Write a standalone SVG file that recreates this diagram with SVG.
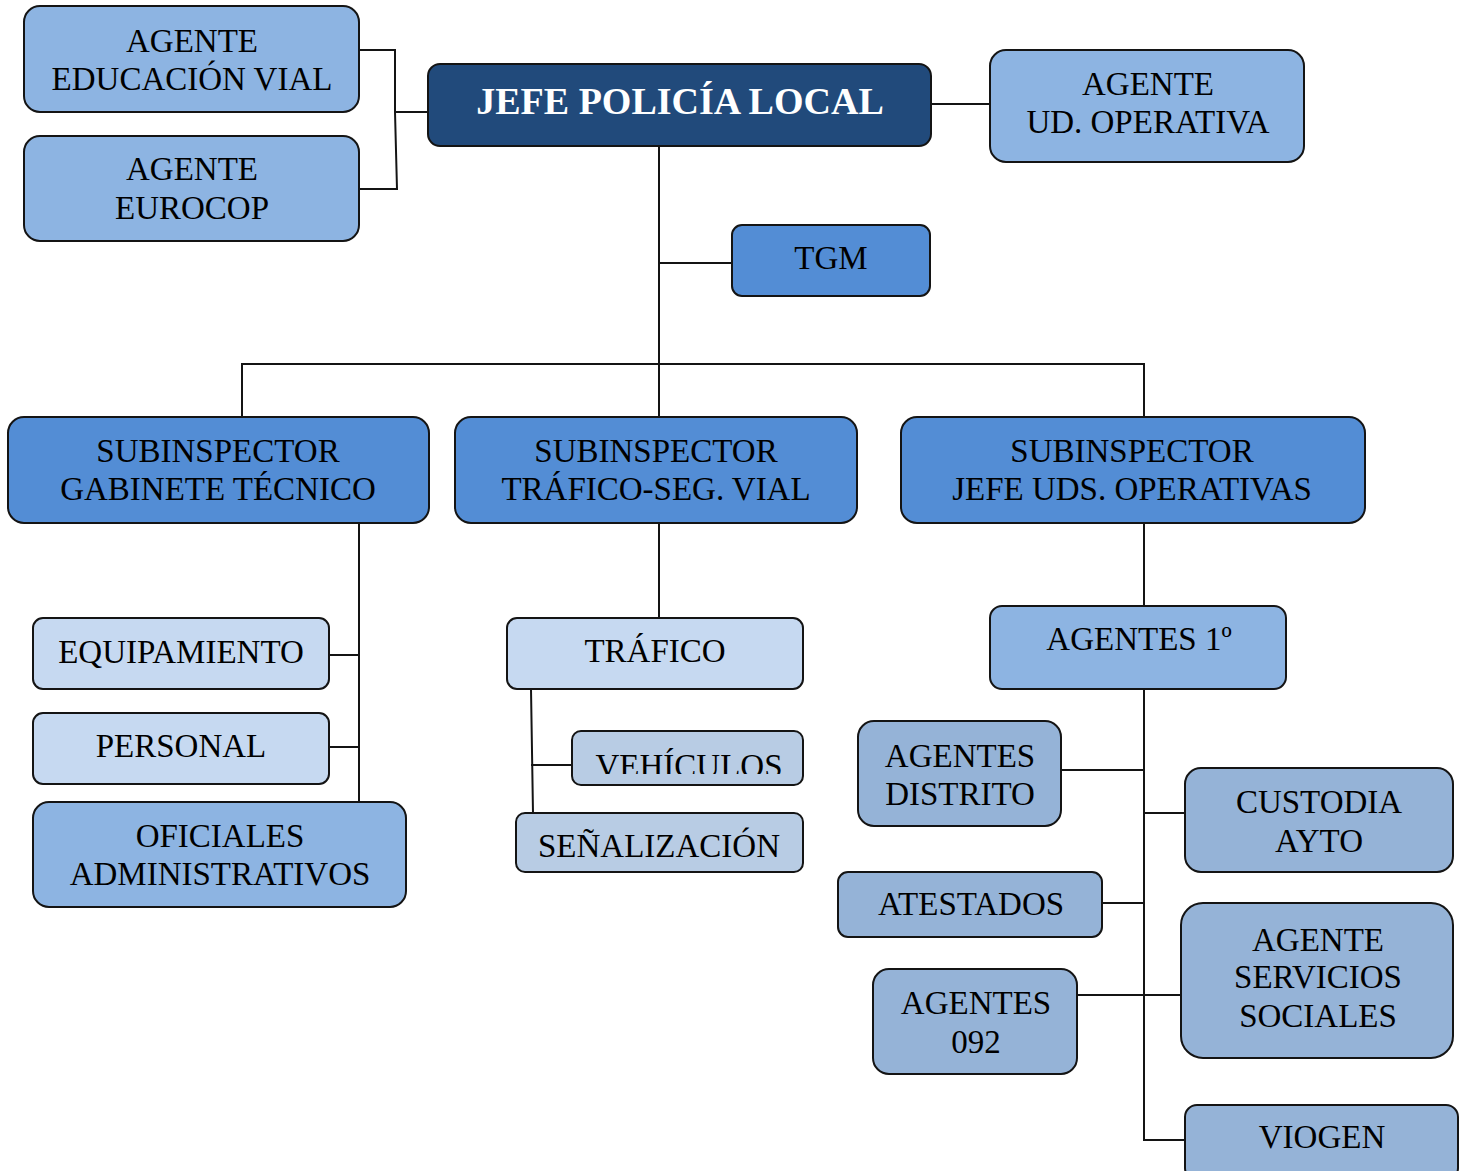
<svg xmlns="http://www.w3.org/2000/svg" width="1467" height="1171" viewBox="0 0 1467 1171">
<style>
.b{stroke:#141414;stroke-width:2}
.dk{fill:#214A7B}.md{fill:#538DD5}.lt{fill:#8DB4E2}.pl{fill:#C6D9F1}.gy{fill:#B8CCE4}.sl{fill:#95B3D7}
text{font-family:"Liberation Serif","Times New Roman",serif;font-size:33px;fill:#000;text-anchor:middle}
.t{font-size:38px;font-weight:bold;fill:#fff}
.c{fill:none;stroke:#141414;stroke-width:2}
</style>
<defs>
<clipPath id="vclip"><rect x="572" y="731" width="231" height="43"/></clipPath>
</defs>
<rect width="1467" height="1171" fill="#fff"/>
<g id="connectors">
<path class="c" d="M359 50H395V112M359 189H397L395 112M395 112H428"/>
<path class="c" d="M931 104H990"/>
<path class="c" d="M659 146V417M659 263H732M242 417V364H1144V417"/>
<path class="c" d="M359 523V802M329 655H359M329 747H359"/>
<path class="c" d="M659 523V618M531 689L533 813M531 765H572"/>
<path class="c" d="M1144 523V606M1144 689V1140H1185M1061 770H1144M1144 813H1185M1102 903H1144M1077 995H1181"/>
</g>
<g id="n-edu"><rect class="b lt" x="24" y="6" width="335" height="106" rx="16"/><text x="192" y="52">AGENTE</text><text x="192" y="90">EDUCACIÓN VIAL</text></g>
<g id="n-eurocop"><rect class="b lt" x="24" y="136" width="335" height="105" rx="16"/><text x="192" y="180">AGENTE</text><text x="192" y="219">EUROCOP</text></g>
<g id="n-jefe"><rect class="b dk" x="428" y="64" width="503" height="82" rx="12"/><text class="t" x="680" y="114">JEFE POLICÍA LOCAL</text></g>
<g id="n-udop"><rect class="b lt" x="990" y="50" width="314" height="112" rx="16"/><text x="1148" y="95">AGENTE</text><text x="1148" y="133">UD. OPERATIVA</text></g>
<g id="n-tgm"><rect class="b md" x="732" y="225" width="198" height="71" rx="10"/><text x="831" y="269">TGM</text></g>
<g id="n-subgab"><rect class="b md" x="8" y="417" width="421" height="106" rx="16"/><text x="218" y="462">SUBINSPECTOR</text><text x="218" y="500">GABINETE TÉCNICO</text></g>
<g id="n-subtraf"><rect class="b md" x="455" y="417" width="402" height="106" rx="16"/><text x="656" y="462">SUBINSPECTOR</text><text x="656" y="500">TRÁFICO-SEG. VIAL</text></g>
<g id="n-subuds"><rect class="b md" x="901" y="417" width="464" height="106" rx="16"/><text x="1132" y="462">SUBINSPECTOR</text><text x="1132" y="500">JEFE UDS. OPERATIVAS</text></g>
<g id="n-equip"><rect class="b pl" x="33" y="618" width="296" height="71" rx="10"/><text x="181" y="663">EQUIPAMIENTO</text></g>
<g id="n-personal"><rect class="b pl" x="33" y="713" width="296" height="71" rx="10"/><text x="181" y="757">PERSONAL</text></g>
<g id="n-oficiales"><rect class="b lt" x="33" y="802" width="373" height="105" rx="16"/><text x="220" y="847">OFICIALES</text><text x="220" y="885">ADMINISTRATIVOS</text></g>
<g id="n-trafico"><rect class="b pl" x="507" y="618" width="296" height="71" rx="10"/><text x="655" y="662">TRÁFICO</text></g>
<g id="n-vehiculos"><rect class="b gy" x="572" y="731" width="231" height="54" rx="9"/><text x="689" y="777" clip-path="url(#vclip)">VEHÍCULOS</text></g>
<g id="n-senal"><rect class="b gy" x="516" y="813" width="287" height="59" rx="9"/><text x="659" y="857">SEÑALIZACIÓN</text></g>
<g id="n-ag1"><rect class="b lt" x="990" y="606" width="296" height="83" rx="12"/><text x="1139" y="650">AGENTES 1º</text></g>
<g id="n-distrito"><rect class="b sl" x="858" y="721" width="203" height="105" rx="16"/><text x="960" y="767">AGENTES</text><text x="960" y="805">DISTRITO</text></g>
<g id="n-custodia"><rect class="b sl" x="1185" y="768" width="268" height="104" rx="16"/><text x="1319" y="813">CUSTODIA</text><text x="1319" y="852">AYTO</text></g>
<g id="n-atestados"><rect class="b sl" x="838" y="872" width="264" height="65" rx="10"/><text x="971" y="915">ATESTADOS</text></g>
<g id="n-ss"><rect class="b sl" x="1181" y="903" width="272" height="155" rx="22"/><text x="1318" y="951">AGENTE</text><text x="1318" y="988">SERVICIOS</text><text x="1318" y="1027">SOCIALES</text></g>
<g id="n-092"><rect class="b sl" x="873" y="969" width="204" height="105" rx="16"/><text x="976" y="1014">AGENTES</text><text x="976" y="1053">092</text></g>
<g id="n-viogen"><rect class="b sl" x="1185" y="1105" width="273" height="75" rx="12"/><text x="1322" y="1148">VIOGEN</text></g>
</svg>
